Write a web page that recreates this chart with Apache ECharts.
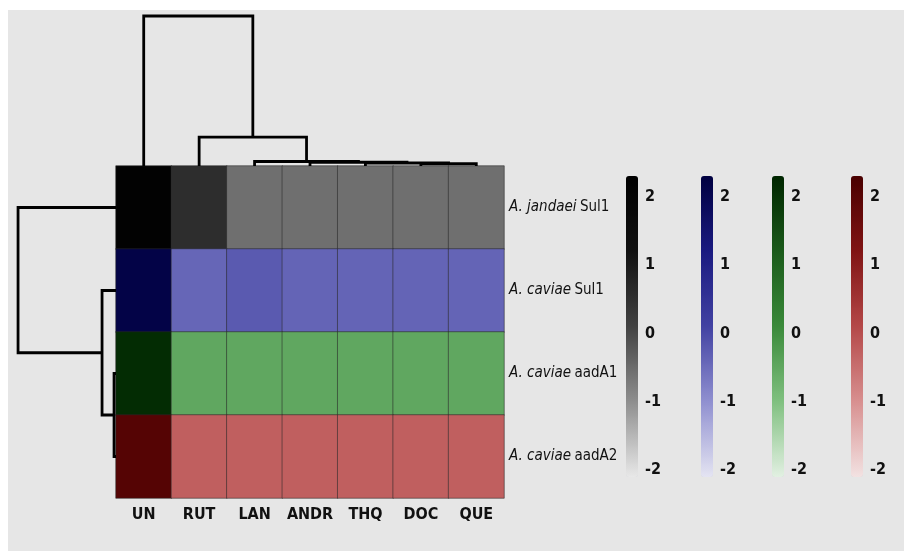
<!DOCTYPE html>
<html>
<head>
<meta charset="utf-8">
<script src="https://cdn.jsdelivr.net/npm/echarts@6/dist/echarts.min.js"></script>
<style>
html,body{margin:0;padding:0;background:#ffffff;}
#chart{width:904px;height:551px;}
</style>
</head>
<body>
<div id="chart"></div>
<script>
// ---------- data ----------
const columns = ['UN', 'RUT', 'LAN', 'ANDR', 'THQ', 'DOC', 'QUE'];
const rowSpecies = ['A. jandaei', 'A. caviae', 'A. caviae', 'A. caviae'];
const rowGenes = ['Sul1', 'Sul1', 'aadA1', 'aadA2'];
const valuesJandaeiSul1 = [2.2, 0.58, -0.54, -0.54, -0.54, -0.54, -0.54];
const valuesCaviaeSul1 = [2.2, -0.40, -0.23, -0.37, -0.37, -0.37, -0.37];
const valuesCaviaeAadA1 = [2.2, -0.49, -0.49, -0.49, -0.49, -0.49, -0.49];
const valuesCaviaeAadA2 = [2.1, -0.25, -0.25, -0.25, -0.25, -0.25, -0.25];
const scaleTicks = [-2, -1, 0, 1, 2];
// dendrogram merges: [childA, childB, height]; leaves are 0..n-1, merged nodes numbered n, n+1, ...
const columnMerges = [[5, 6, 0.15], [4, 7, 0.2], [3, 8, 0.25], [2, 9, 0.3], [1, 10, 1.93], [0, 11, 10]];
const rowMerges = [[2, 3, 0.13], [1, 4, 0.93], [0, 5, 6.53]];

// ---------- styling ----------
const rowValues = [valuesJandaeiSul1, valuesCaviaeSul1, valuesCaviaeAadA1, valuesCaviaeAadA2];
const palettes = [
  ['#e8e8e8', '#8e8e8e', '#424242', '#111111', '#000000'],
  ['#e4e4f2', '#9090d0', '#4242a2', '#1a1a80', '#000040'],
  ['#e2f0e2', '#80c080', '#3a8a3a', '#1a5a1a', '#002600'],
  ['#f2e2e2', '#d89090', '#b44848', '#801414', '#4a0000']
];
const barLefts = [626, 701, 772, 851];
const FONT = "'Liberation Sans Narrow', 'DejaVu Sans Condensed', 'Liberation Sans', sans-serif";
const HM = {left: 116, top: 166, width: 388, height: 332};
const SCALE_MIN = -2.1, SCALE_MAX = 2.32;

function dendroLines(merges, nLeaves, horizontal) {
  const pos = [], hgt = [];
  for (let i = 0; i < nLeaves; i++) { pos.push(i + 0.5); hgt.push(0); }
  const out = [];
  merges.forEach(m => {
    const a = m[0], b = m[1], h = m[2];
    const pts = [[pos[a], hgt[a]], [pos[a], h], [pos[b], h], [pos[b], hgt[b]]];
    out.push({coords: horizontal ? pts.map(p => [p[1], p[0]]) : pts});
    pos.push((pos[a] + pos[b]) / 2);
    hgt.push(h);
  });
  return out;
}

const grids = [
  {left: HM.left, top: HM.top, width: HM.width, height: HM.height},               // 0 heatmap
  {left: HM.left, top: HM.top - 10.2 * 15, width: HM.width, height: 10.2 * 15},  // 1 top dendrogram
  {left: HM.left - 7 * 15, top: HM.top, width: 7 * 15, height: HM.height}         // 2 left dendrogram
];
barLefts.forEach(l => grids.push({left: l, top: 197, width: 12, height: 273}));

const xAxes = [
  {type: 'category', gridIndex: 0, data: columns, position: 'bottom',
    axisLine: {show: false}, axisTick: {show: false}, splitLine: {show: false},
    axisLabel: {interval: 0, margin: 9, fontFamily: FONT, fontWeight: 'bold', fontSize: 16, color: '#111'}},
  {type: 'value', gridIndex: 1, min: 0, max: 7, show: false},
  {type: 'value', gridIndex: 2, min: 0, max: 7, inverse: true, show: false}
];
const yAxes = [
  {type: 'category', gridIndex: 0, data: rowSpecies.map((s, i) => s + '|' + rowGenes[i]), inverse: true, position: 'right',
    axisLine: {show: false}, axisTick: {show: false}, splitLine: {show: false},
    axisLabel: {interval: 0, margin: 5, align: 'left',
      formatter: v => { const p = v.split('|'); return '{i|' + p[0] + '} {n|' + p[1] + '}'; },
      rich: {
        i: {fontFamily: FONT, fontStyle: 'italic', fontSize: 15, color: '#111'},
        n: {fontFamily: FONT, fontSize: 15, color: '#111'}
      }}},
  {type: 'value', gridIndex: 1, min: 0, max: 10.2, show: false},
  {type: 'value', gridIndex: 2, min: 0, max: 4, inverse: true, show: false}
];
barLefts.forEach((l, k) => {
  xAxes.push({type: 'value', gridIndex: 3 + k, show: false});
  yAxes.push({type: 'value', gridIndex: 3 + k, min: scaleTicks[0], max: scaleTicks[scaleTicks.length - 1], interval: 1,
    position: 'right', axisLine: {show: false}, axisTick: {show: false}, splitLine: {show: false},
    axisLabel: {margin: 7, fontFamily: FONT, fontWeight: 'bold', fontSize: 16, color: '#111'}});
});

const series = rowValues.map((vals, r) => ({
  type: 'heatmap', xAxisIndex: 0, yAxisIndex: 0,
  data: vals.map((v, c) => [c, r, v]),
  itemStyle: {borderColor: 'rgba(40,40,40,0.55)', borderWidth: 1},
  emphasis: {disabled: true}, silent: true
}));
series.push({
  type: 'lines', coordinateSystem: 'cartesian2d', xAxisIndex: 1, yAxisIndex: 1, polyline: true, silent: true, z: 5,
  lineStyle: {color: '#000', width: 2.8, opacity: 1},
  data: dendroLines(columnMerges, columns.length, false)
});
series.push({
  type: 'lines', coordinateSystem: 'cartesian2d', xAxisIndex: 2, yAxisIndex: 2, polyline: true, silent: true, z: 5,
  lineStyle: {color: '#000', width: 2.8, opacity: 1},
  data: dendroLines(rowMerges, rowSpecies.length, true)
});

const visualMaps = palettes.map((pal, k) => ({
  type: 'continuous', seriesIndex: k, dimension: 2, min: SCALE_MIN, max: SCALE_MAX,
  left: barLefts[k], top: 176, itemWidth: 12, itemHeight: 301, padding: 0,
  calculable: false, hoverLink: false, text: null, showLabel: false,
  inRange: {color: pal}
}));

const chart = echarts.init(document.getElementById('chart'), null, {renderer: 'canvas'});
chart.setOption({
  animation: false,
  backgroundColor: '#ffffff',
  graphic: [{type: 'rect', left: 8, top: 10, z: -10, shape: {width: 896, height: 541}, style: {fill: '#e6e6e6'}, silent: true}],
  grid: grids,
  xAxis: xAxes,
  yAxis: yAxes,
  visualMap: visualMaps,
  series: series
});
</script>
</body>
</html>
